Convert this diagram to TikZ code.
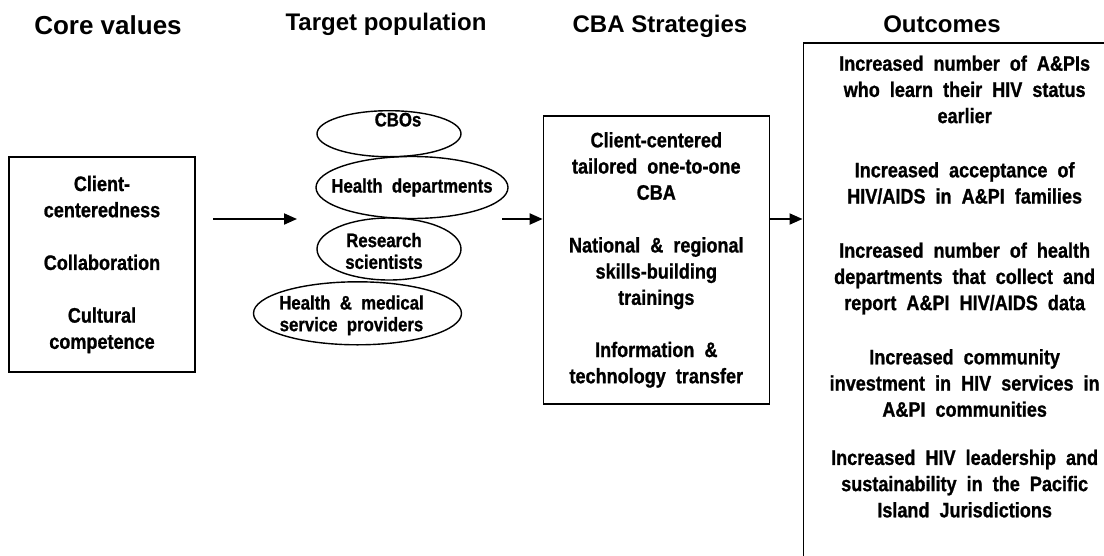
\documentclass[tikz,border=0pt]{standalone}
\usepackage{fontspec}
\usetikzlibrary{arrows.meta,positioning,calc,shapes.geometric}
\newfontfamily\headfont{Liberation Sans}
\newfontfamily\narrowfont[FakeStretch=0.86,WordSpace=2,BoldFeatures={FakeBold=1}]{Liberation Sans}

\begin{document}
\begin{tikzpicture}[x=1pt,y=-1pt,
	head/.style={font=\headfont\bfseries\fontsize{24}{28}\selectfont,anchor=base},
	bodytext/.style={inner sep=0pt,align=center,font=\narrowfont\bfseries\fontsize{21}{26.2}\selectfont},
	box/.style={bodytext,draw,line width=1.3pt},
	grp/.style={draw,ellipse,line width=1.4pt,inner sep=0pt},
	grptext/.style={inner sep=0pt,align=center,font=\narrowfont\bfseries\fontsize{19.5}{21.7}\selectfont},
	flow/.style={line width=2pt,-{Triangle[length=13pt,width=11pt]}}]
	\useasboundingbox (0,0) rectangle (1104,555);
	\clip (0,0) rectangle (1104,555);
	% column heads
	\node[head,font=\headfont\bfseries\fontsize{26}{30}\selectfont] (hcore) at (108,34) {Core values};
	\node[head] (htarget) at (386,30.5) {Target population};
	\node[head] (hcba) at (660,32.2) {CBA Strategies};
	\node[head] (hout) at (942,32.2) {Outcomes};
	% core values
	\node[box,minimum width=186,minimum height=215] (core) at (102,264.5)
		{Client-\\centeredness\\[26.5pt]Collaboration\\[26.5pt]Cultural\\competence};
	% target groups
	\node[grp,minimum width=144,minimum height=46,label={[grptext,xshift=9pt,yshift=14pt]center:CBOs}] (cbo) at (389,133.7) {};
	\node[grp,minimum width=192,minimum height=62,label={[grptext]center:Health  departments}] (hd) at (412,187.5) {};
	\node[grp,minimum width=144,minimum height=62,label={[grptext,xshift=-5pt,yshift=-2pt]center:{Research\\scientists}}] (rs) at (389,249) {};
	\node[grp,minimum width=208,minimum height=63,label={[grptext,xshift=-6pt,yshift=-2pt]center:{Health  \& medical\\service  providers}}] (hmsp) at (357.5,313.3) {};
	% strategies
	\node[box,minimum width=226,minimum height=288] (cba) at (656.3,259.9)
		{Client-centered\\tailored  one-to-one\\CBA\\[26.5pt]National \& regional\\skills-building\\trainings\\[26pt]Information  \&\\technology  transfer};
	% outcomes, box runs past the page edge
	\node[box,minimum width=323,minimum height=560,anchor=north west] (outcomes) at (802.5,42.3) {};
	\node[bodytext,below=13pt of outcomes.north] (outlist)
		{Increased  number of  A\&PIs\\who  learn  their  HIV  status\\earlier\\[28pt]
		Increased  acceptance  of\\HIV/AIDS  in  A\&PI  families\\[28pt]
		Increased  number  of  health\\departments  that  collect  and\\report A\&PI  HIV/AIDS  data\\[28pt]
		Increased  community\\investment  in  HIV  services  in\\A\&PI  communities\\[22pt]
		Increased  HIV leadership  and\\sustainability  in the  Pacific\\Island  Jurisdictions};
	% flow arrows
	\coordinate (in1) at (213,219);
	\coordinate (out1) at (297,219);
	\coordinate (in2) at (502,219);
	\draw[flow] (in1) -- (out1);
	\draw[flow] (in2) -- (in2 -| cba.west);
	\draw[flow] (in2 -| cba.east) -- (in2 -| outcomes.west);
\end{tikzpicture}
\end{document}
